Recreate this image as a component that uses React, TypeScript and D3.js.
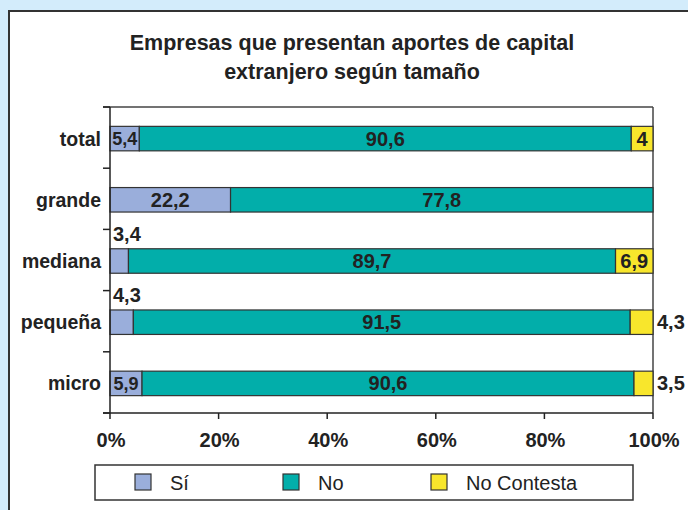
import React from "react";
import * as d3 from "d3";

const categories = ["total", "grande", "mediana", "pequeña", "micro"];
const siValues = [5.4, 22.2, 3.4, 4.3, 5.9];
const noValues = [90.6, 77.8, 89.7, 91.5, 90.6];
const ncValues = [4, 0, 6.9, 4.3, 3.5];
const seriesNames = ["Sí", "No", "No Contesta"];
const seriesColors = ["#9aaedb", "#02aeaa", "#f8e62c"];
const xTicks = [0, 20, 40, 60, 80, 100];
const titleLines = ["Empresas que presentan aportes de capital", "extranjero según tamaño"];

const W = 688;
const H = 510;
const FONT = "'Liberation Sans', Arial, Helvetica, sans-serif";

function fmt(v: number) {
  return String(v).replace(".", ",");
}
function textWidth(s: string, size: number) {
  let w = 0;
  for (const ch of s) w += ch === "," ? 0.278 : 0.556;
  return w * size;
}

export default function App() {
  const x = d3.scaleLinear().domain([0, 100]).range([110, 653]);
  const y = d3
    .scaleBand<string>()
    .domain(categories)
    .range([107, 413])
    .paddingInner(0.6)
    .paddingOuter(0.3);
  const step = y.step();
  const [r0, r1] = y.range();

  const rows = categories.map((c, i) => ({ cat: c, si: siValues[i], no: noValues[i], nc: ncValues[i] }));
  const stack = d3.stack<any>().keys(["si", "no", "nc"])(rows);

  const bars: React.ReactNode[] = [];
  const labels: React.ReactNode[] = [];
  stack.forEach((layer, si) => {
    layer.forEach((d, i) => {
      const v = (rows[i] as any)[layer.key];
      if (!v) return;
      const x0 = x(d[0]);
      const x1 = x(Math.min(d[1], 100));
      const yy = y(categories[i])! + 1;
      const bw = y.bandwidth();
      bars.push(
        <rect
          key={`b-${si}-${i}`}
          x={x0}
          y={yy}
          width={x1 - x0}
          height={bw}
          fill={seriesColors[si]}
          stroke="#333"
          strokeWidth={1.2}
        />
      );
      const txt = fmt(v);
      const segW = x1 - x0;
      let size = 20;
      let tx = (x0 + x1) / 2;
      let ty = yy + bw / 2 + 7;
      let anchor: "middle" | "start" = "middle";
      if (textWidth(txt, 20) + 6 <= segW) {
        size = 20;
      } else if (textWidth(txt, 18) + 3 <= segW) {
        size = 18;
        ty = yy + bw / 2 + 6.5;
      } else if (si === 0) {
        anchor = "start";
        tx = x(0) + 3;
        ty = yy - 8;
      } else {
        anchor = "start";
        tx = x(100) + 4;
      }
      labels.push(
        <text
          key={`l-${si}-${i}`}
          x={tx}
          y={ty}
          textAnchor={anchor}
          fontSize={size}
          fontWeight="bold"
          fill="#222"
          fontFamily={FONT}
        >
          {txt}
        </text>
      );
    });
  });

  const boundaries = d3.range(categories.length + 1).map((k) => r0 + k * step);
  const legendX = d3.scaleLinear().domain([0, 1]).range([135, 283]);

  return (
    <svg
      width={W}
      height={H}
      style={{ position: "absolute", left: 0, top: 0 }}
      fontFamily={FONT}
    >
      <rect x={0} y={0} width={W} height={H} fill="#d3ecfb" />
      <rect x={9} y={11} width={W + 20} height={H + 20} fill="#fff" stroke="#333" strokeWidth={2} />

      {titleLines.map((t, i) => (
        <text
          key={t}
          x={352}
          y={50 + i * 29}
          textAnchor="middle"
          fontSize={21.5}
          fontWeight="bold"
          fill="#222"
        >
          {t}
        </text>
      ))}

      {/* frame top & right */}
      <line x1={103} x2={x(100)} y1={r0} y2={r0} stroke="#444" strokeWidth={1.5} />
      <line x1={x(100)} x2={x(100)} y1={r0} y2={r1} stroke="#444" strokeWidth={1.5} />

      {bars}

      {/* y axis */}
      <line x1={x(0)} x2={x(0)} y1={r0} y2={r1} stroke="#222" strokeWidth={1.5} />
      {boundaries.map((b, k) => (
        <line key={`yt${k}`} x1={103} x2={x(0)} y1={b} y2={b} stroke="#222" strokeWidth={1.5} />
      ))}
      {categories.map((c) => (
        <text
          key={c}
          x={101}
          y={y(c)! + y.bandwidth() / 2 + 8}
          textAnchor="end"
          fontSize={19.5}
          fontWeight="bold"
          fill="#222"
        >
          {c}
        </text>
      ))}

      {/* x axis */}
      <line x1={103} x2={x(100)} y1={r1} y2={r1} stroke="#222" strokeWidth={1.5} />
      {xTicks.map((t) => (
        <g key={`xt${t}`}>
          <line x1={x(t)} x2={x(t)} y1={r1} y2={r1 + 6} stroke="#222" strokeWidth={1.5} />
          <text
            x={x(t) + 1}
            y={447}
            textAnchor="middle"
            fontSize={20}
            fontWeight="bold"
            fill="#222"
          >
            {`${t}%`}
          </text>
        </g>
      ))}

      {labels}

      {/* legend */}
      <rect x={95} y={465} width={538} height={35} fill="#fff" stroke="#333" strokeWidth={1.5} />
      {seriesNames.map((n, i) => (
        <g key={n}>
          <rect
            x={legendX(i)}
            y={474}
            width={16}
            height={16}
            fill={seriesColors[i]}
            stroke="#333"
            strokeWidth={1.2}
          />
          <text x={legendX(i) + 35} y={490} fontSize={20} fill="#222">
            {n}
          </text>
        </g>
      ))}
    </svg>
  );
}
